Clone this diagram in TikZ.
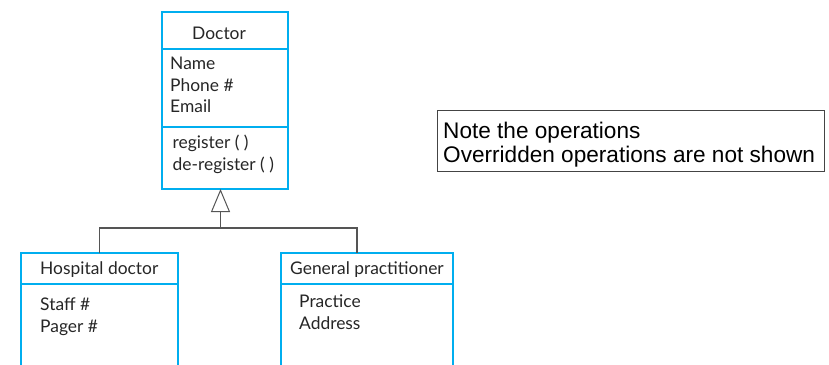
\documentclass[tikz,border=0pt]{standalone}
\usepackage{fontspec}
\setmainfont{Lato}
\newfontfamily\notefont{Liberation Sans}
\usetikzlibrary{arrows.meta}
\definecolor{umlblue}{HTML}{00AEEF}
\definecolor{linkgray}{HTML}{555555}
\definecolor{notegray}{HTML}{444444}
\begin{document}
\begin{tikzpicture}[x=1pt,y=-1pt,
  classbox/.style={draw=umlblue, line width=2pt, inner sep=0pt, outer sep=0pt, anchor=north west},
  divider/.style={draw=umlblue, line width=2pt},
  umltext/.style={anchor=base west, inner sep=0pt, font=\fontsize{17.4}{20}\selectfont, text=black!85},
  link/.style={draw=linkgray, line width=1.2pt},
  notebox/.style={draw=notegray, line width=1pt, inner sep=0pt, outer sep=0pt, anchor=north west},
  notetext/.style={anchor=base west, inner sep=0pt, font=\notefont\fontsize{22.6}{24}\selectfont}]
\clip (0,0) rectangle (829,364);
\fill[white] (0,0) rectangle (829,364);

% Superclass
\node[classbox, minimum width=126pt, minimum height=177pt] (doctor) at (161.5,12) {};
\draw[divider] (doctor.west |- 0,48.5) -- (doctor.east |- 0,48.5);
\draw[divider] (doctor.west |- 0,127) -- (doctor.east |- 0,127);
\node[umltext] (docname) at (192,39.3) {Doctor};
\node[umltext] (docattr1) at (170,69) {Name};
\node[umltext] (docattr2) at (170,91) {Phone \#};
\node[umltext] (docattr3) at (170,112.7) {Email};
\node[umltext] (docop1) at (172.5,148.3) {register ( )};
\node[umltext] (docop2) at (172.5,170) {de-register ( )};

% Subclasses
\node[classbox, minimum width=157pt, minimum height=150pt] (hosp) at (21,253.3) {};
\draw[divider] (hosp.west |- 0,284.3) -- (hosp.east |- 0,284.3);
\node[umltext] (hospname) at (40,274) {Hospital doctor};
\node[umltext] (hospattr1) at (40,310) {Staff \#};
\node[umltext] (hospattr2) at (40,332) {Pager \#};

\node[classbox, minimum width=172pt, minimum height=150pt] (gp) at (281,253.3) {};
\draw[divider] (gp.west |- 0,284.3) -- (gp.east |- 0,284.3);
\node[umltext] (gpname) at (290,274) {General practitioner};
\node[umltext] (gpattr1) at (299,307.3) {Practice};
\node[umltext] (gpattr2) at (299,329) {Address};

% Generalisation
\coordinate (joint) at (220.5,228);
\draw[link] (hosp.north) |- (joint) -| ([xshift=76pt]gp.north west);
\draw[link, -{Triangle[open, length=23pt, width=19pt, line width=1pt]}] (joint) -- (joint |- doctor.south);

% Note
\node[notebox, minimum width=387pt, minimum height=61pt] (note) at (437,110.5) {};
\node[notetext] (note1) at (443,138.7) {Note the operations};
\node[notetext] (note2) at (443,162) {Overridden operations are not shown};
\end{tikzpicture}
\end{document}
